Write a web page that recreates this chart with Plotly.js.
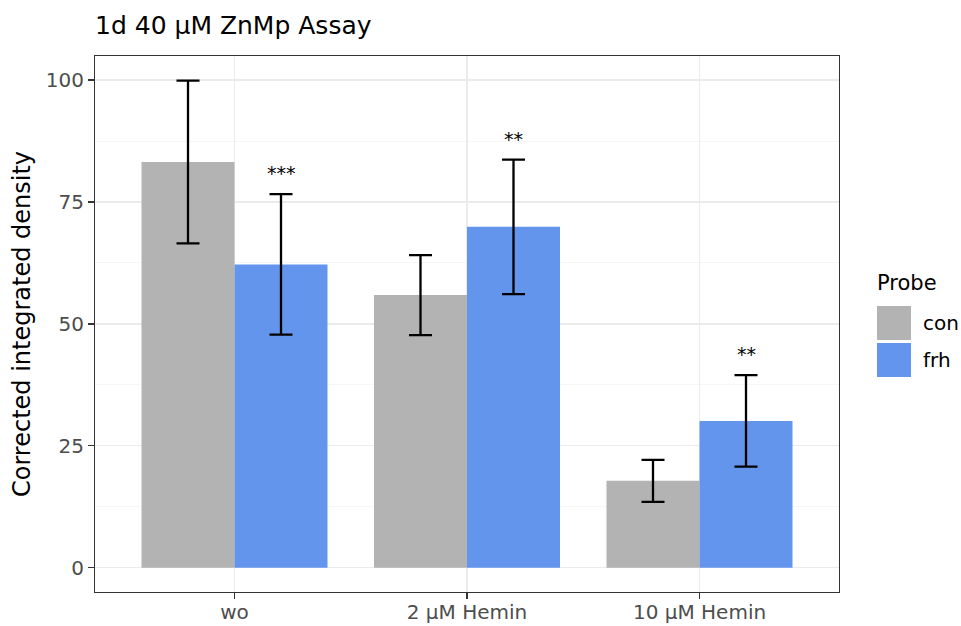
<!DOCTYPE html>
<html>
<head>
<meta charset="utf-8">
<script src="https://cdn.plot.ly/plotly-3.0.1.min.js"></script>
<style>html,body{margin:0;padding:0;background:#fff;}</style>
</head>
<body>
<div id="chart" style="width:961px;height:626px;"></div>
<script>
// ---- data ----
const categories = ["wo", "2 µM Hemin", "10 µM Hemin"];
const conMean = [83.2, 55.9, 17.8];
const conSd   = [16.7, 8.2, 4.3];
const frhMean = [62.2, 69.9, 30.1];
const frhSd   = [14.4, 13.8, 9.4];
const sigLabels = ["***", "**", "**"];
const seriesNames = ["con", "frh"];
const yTicks = [0, 25, 50, 75, 100];

// ---- layout helpers ----
const W = 961, H = 626;
const M = {l: 95, r: 122, t: 56, b: 34};
const pw = W - M.l - M.r, ph = H - M.t - M.b;
const px = x => (x - M.l) / pw;
const py = y => (H - M.b - y) / ph;

const FONT = "DejaVu Sans, Liberation Sans, Arial, sans-serif";
const colors = ["#B3B3B3", "#6495ED"];

const traces = [
  {type: "bar", name: seriesNames[0], x: categories, y: conMean,
   marker: {color: colors[0], line: {width: 0}},
   error_y: {type: "data", array: conSd, visible: true, color: "#000", thickness: 2.3, width: 11.5},
   showlegend: false, hoverinfo: "skip"},
  {type: "bar", name: seriesNames[1], x: categories, y: frhMean,
   marker: {color: colors[1], line: {width: 0}},
   error_y: {type: "data", array: frhSd, visible: true, color: "#000", thickness: 2.3, width: 11.5},
   showlegend: false, hoverinfo: "skip"}
];

const annotations = sigLabels.map((s, i) => ({
  x: i + 0.2, y: frhMean[i] + frhSd[i], xref: "x", yref: "y",
  text: s, showarrow: false, yanchor: "middle", yshift: 21,
  font: {family: FONT, size: 19, color: "#000"}
}));

// legend (custom)
annotations.push({xref: "paper", yref: "paper", x: px(875), y: py(283), xanchor: "left", yanchor: "middle",
  text: "Probe", showarrow: false, font: {family: FONT, size: 21, color: "#000"}});
const shapes = [];
seriesNames.forEach((n, i) => {
  const top = 306 + i * 37;
  shapes.push({type: "rect", xref: "paper", yref: "paper", x0: px(877), x1: px(911), y0: py(top + 34), y1: py(top),
    fillcolor: colors[i], line: {width: 0}});
  annotations.push({xref: "paper", yref: "paper", x: px(921), y: py(top + 17), xanchor: "left", yanchor: "middle",
    text: n, showarrow: false, font: {family: FONT, size: 20, color: "#000"}});
});

const layout = {
  width: W, height: H,
  margin: M,
  paper_bgcolor: "#fff", plot_bgcolor: "#fff",
  font: {family: FONT},
  title: {text: "1d 40 µM ZnMp Assay", xref: "paper", x: 0.0, xanchor: "left",
          yref: "container", y: 1 - 25 / H, yanchor: "middle",
          font: {family: FONT, size: 25, color: "#000"}},
  barmode: "group", bargap: 0.2, bargroupgap: 0,
  showlegend: false,
  xaxis: {type: "category", range: [-0.6, 2.6], showgrid: true, gridcolor: "#EBEBEB", gridwidth: 1.3,
          zeroline: false, showline: true, mirror: true, linecolor: "#333333", linewidth: 1.1,
          ticks: "outside", ticklen: 6, tickwidth: 1.3, tickcolor: "#333333", ticklabelstandoff: -4,
          tickfont: {family: FONT, size: 20, color: "#4D4D4D"}},
  yaxis: {range: [-5, 104.95], tickvals: yTicks, ticktext: yTicks.map(String),
          showgrid: true, gridcolor: "#EBEBEB", gridwidth: 1.3, zeroline: false,
          showline: true, mirror: true, linecolor: "#333333", linewidth: 1.1,
          ticks: "outside", ticklen: 6, tickwidth: 1.3, tickcolor: "#333333",
          tickfont: {family: FONT, size: 20, color: "#4D4D4D"},
          minor: {tickvals: [12.5, 37.5, 62.5, 87.5], showgrid: true, gridcolor: "#F2F2F2", gridwidth: 0.7, ticks: ""},
          title: {text: "Corrected integrated density", standoff: 8, font: {family: FONT, size: 24, color: "#000"}}},
  annotations: annotations,
  shapes: shapes
};

Plotly.newPlot("chart", traces, layout, {displayModeBar: false, staticPlot: true});
</script>
</body>
</html>
